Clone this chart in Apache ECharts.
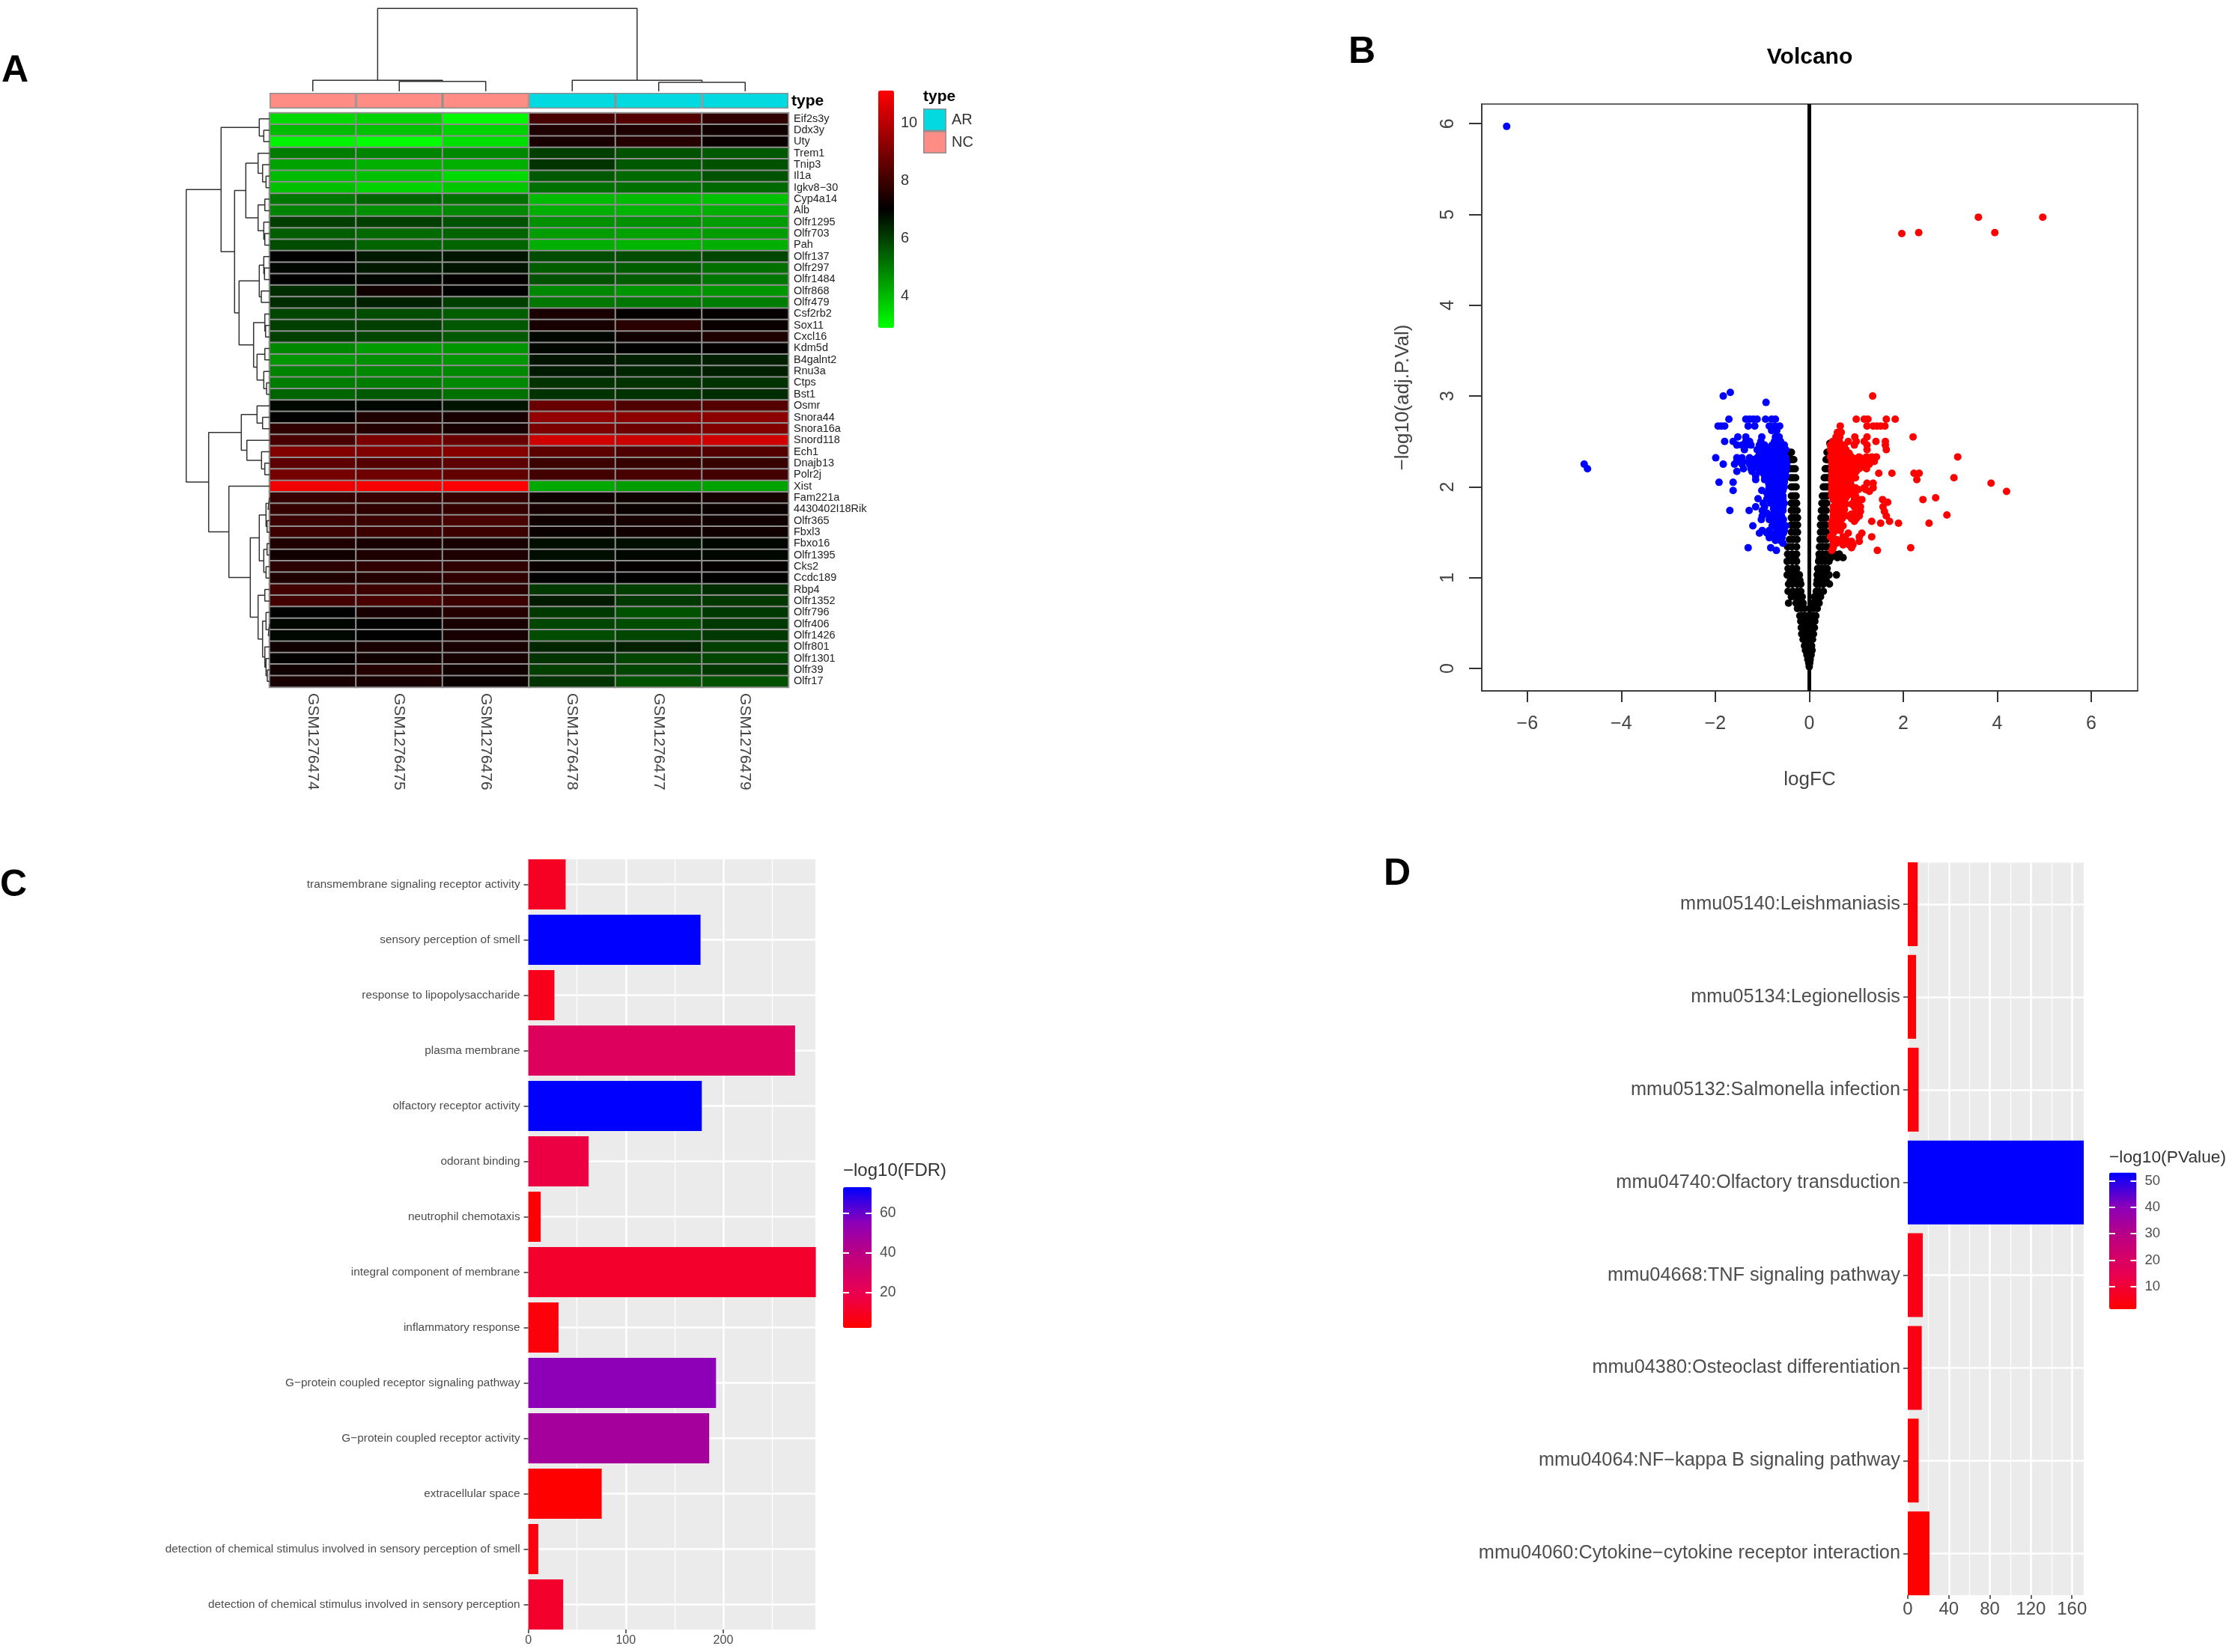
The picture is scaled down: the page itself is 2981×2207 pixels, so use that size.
<!DOCTYPE html>
<html>
<head>
<meta charset="utf-8">
<title>Figure</title>
<script src="https://cdn.jsdelivr.net/npm/echarts@6/dist/echarts.min.js"></script>
<style>
  html, body { margin: 0; padding: 0; background: #fff; }
  #container { width: 2981px; height: 2207px; }
</style>
</head>
<body>
<div id="container"></div>
<script>
// ---- panel A: heatmap ----
var sampleNames = ['GSM1276474','GSM1276475','GSM1276476','GSM1276478','GSM1276477','GSM1276479'];
var sampleType = ['NC','NC','NC','AR','AR','AR'];
var typeNames = ['AR','NC'];
var geneNames = ['Eif2s3y','Ddx3y','Uty','Trem1','Tnip3','Il1a','Igkv8\u221230','Cyp4a14','Alb','Olfr1295','Olfr703','Pah','Olfr137','Olfr297','Olfr1484','Olfr868','Olfr479','Csf2rb2','Sox11','Cxcl16','Kdm5d','B4galnt2','Rnu3a','Ctps','Bst1','Osmr','Snora44','Snora16a','Snord118','Ech1','Dnajb13','Polr2j','Xist','Fam221a','4430402I18Rik','Olfr365','Fbxl3','Fbxo16','Olfr1395','Cks2','Ccdc189','Rbp4','Olfr1352','Olfr796','Olfr406','Olfr1426','Olfr801','Olfr1301','Olfr39','Olfr17'];
var expression = [
  [3.5,3.6,3.0,8.2,8.4,7.8],[4.0,3.9,3.6,7.5,7.5,7.3],[3.1,2.9,3.4,7.4,7.6,7.2],[5.0,4.9,4.8,6.0,5.7,5.6],
  [4.4,4.2,4.2,6.2,5.6,5.7],[4.0,3.9,3.5,5.6,5.3,5.7],[3.9,3.6,3.8,5.2,5.2,5.3],[5.1,5.4,5.2,4.0,4.0,3.9],
  [4.9,4.7,4.8,4.2,4.1,4.2],[6.0,6.0,5.7,4.7,4.7,4.5],[5.5,5.3,5.4,4.5,4.4,4.5],[5.8,5.4,5.4,4.2,4.1,4.2],
  [7.0,6.6,6.7,5.8,5.8,5.9],[6.9,6.6,6.7,5.5,5.5,5.2],[7.0,6.9,7.1,5.7,5.5,5.1],[6.3,7.3,7.0,4.8,4.6,4.6],
  [6.3,6.5,6.0,5.1,5.1,5.0],[5.9,5.8,5.5,7.4,7.1,7.1],[6.0,6.0,5.6,7.4,7.7,7.2],[6.0,5.9,5.6,6.9,7.3,7.5],
  [4.8,4.5,4.6,6.9,7.0,7.1],[4.6,4.7,4.6,6.7,6.5,6.5],[4.9,4.8,4.8,6.6,6.4,6.5],[5.0,5.0,4.8,6.2,6.2,6.2],
  [5.4,5.6,5.2,6.2,6.2,6.3],[6.9,6.9,6.7,8.7,8.3,8.4],[7.0,7.5,7.4,9.4,9.3,9.3],[7.8,7.6,7.4,9.0,8.8,9.1],
  [8.2,9.0,8.7,10.4,10.3,10.4],[9.1,9.1,9.2,8.5,8.3,8.4],[8.5,8.4,8.5,8.0,7.9,7.9],[8.9,8.8,8.6,8.1,8.2,8.1],
  [10.9,11.0,11.1,4.3,4.5,4.4],[7.9,7.9,7.9,7.3,7.3,7.4],[7.9,7.8,7.9,7.4,7.2,7.2],[8.0,8.0,8.2,7.3,7.4,7.3],
  [8.0,8.0,8.0,7.2,7.3,7.3],[7.5,7.4,7.4,6.8,6.8,6.9],[7.3,7.5,7.5,6.8,6.9,6.9],[7.7,7.8,7.8,7.2,7.1,7.1],
  [7.5,7.6,7.8,7.0,7.0,7.0],[8.1,8.0,7.7,6.1,6.0,6.3],[8.1,8.2,8.0,6.6,6.1,6.1],[7.0,7.4,7.6,6.1,5.7,6.1],
  [6.9,7.0,7.4,5.9,5.8,6.1],[6.9,7.0,7.4,5.8,5.9,6.1],[7.3,7.4,7.4,6.4,6.5,6.0],[7.1,7.3,7.4,6.2,5.9,5.9],
  [7.3,7.6,7.3,6.0,5.9,6.1],[7.4,7.4,7.2,6.2,5.7,5.7]
];
// dendrograms: [height, left, right], a number is a leaf (1-based)
var colTree = [110.7, [14.7, 1, [13.3, 2, 3]], [14.7, 4, [12, 5, 6]]];
var rowTree = [111.3,
  [64.7,
    [13.7, 1, [7.7, 2, 3]],
    [46.7,
      [31.7,
        [15.3, 4, [9.3, 5, [4.7, 6, 7]]],
        [15.3, [6.3, 8, 9], [7.7, 10, [6.3, 11, 12]]]],
      [40.7,
        [13.7, [7.7, 13, [6.7, 14, 15]], [11, 16, 17]],
        [21.3,
          [6.3, 18, [5.3, 19, 20]],
          [16.7, [6.3, 21, 22], [7.7, 23, [4, 24, 25]]]]]]],
  [81.3,
    [37.7,
      [16.7, 26, [9.3, 27, 28]],
      [30.3, 29, [10.7, 30, [6.3, 31, 32]]]],
    [54.3, 33,
      [25.7,
        [13.7, [4.7, [2, 34, 35], [3.3, 36, 37]], [7.7, [3.3, 38, 39], [4.7, 40, 41]]],
        [15.3,
          [6.3, 42, 43],
          [9.3, [4.7, 44, [1.7, 45, 46]], [6.3, 47, [4.7, 48, [3, 49, 50]]]]]]]]
];

// ---- panel B: volcano, each row is [y, x, x, ...] ----
var blackRows = [
  [0.02,0],[0.06,-0.01,0.01],[0.1,-0.03,0.02],[0.15,-0.05,-0.01,0.04],[0.2,-0.08,-0.03,0.03,0.06],
  [0.25,-0.1,-0.04,0.01,0.05],[0.32,-0.13,-0.06,0.02,0.07],[0.38,-0.16,-0.09,-0.02,0.04,0.09],
  [0.45,-0.17,-0.1,-0.03,0.05,0.11],[0.52,-0.18,-0.11,-0.05,0.04,0.12],[0.58,-0.2,-0.13,-0.07,0.03,0.09,0.14],
  [0.66,-0.25,-0.17,-0.1,0.04,0.1,0.17],[0.72,-0.44,-0.28,-0.2,-0.13,0.07,0.13,0.21],
  [0.79,-0.38,-0.3,-0.21,-0.15,0.11,0.17,0.24],[0.85,-0.45,-0.35,-0.25,-0.18,0.15,0.21,0.3],
  [0.93,-0.44,-0.36,-0.26,-0.18,0.16,0.23,0.3,0.43],[0.97,-0.4,-0.3,-0.2,0.17,0.25,0.36],
  [1.03,-0.47,-0.38,-0.28,-0.21,0.17,0.24,0.32,0.42,0.58],[1.1,-0.45,-0.36,-0.27,0.18,0.25,0.32,0.38],
  [1.18,-0.47,-0.36,-0.27,0.2,0.27,0.34,0.42],[1.22,-0.42,-0.3,0.22,0.3,0.46,0.6,0.72],
  [1.26,-0.46,-0.36,-0.27,0.21,0.28,0.36,0.44,0.54,0.64],[1.34,-0.46,-0.37,-0.27,0.22,0.28,0.35,0.42],
  [1.42,-0.42,-0.34,-0.26,0.23,0.29,0.36],[1.5,-0.38,-0.31,-0.25,0.24,0.3,0.36],
  [1.58,-0.38,-0.31,-0.25,0.24,0.3,0.35],[1.66,-0.38,-0.31,-0.25,0.25,0.3,0.35],
  [1.74,-0.38,-0.32,-0.26,0.26,0.31,0.36],[1.82,-0.38,-0.32,-0.27,0.27,0.32,0.37],
  [1.9,-0.38,-0.33,-0.28,0.28,0.33,0.38],[2.0,-0.38,-0.33,-0.28,0.3,0.34,0.38],
  [2.1,-0.39,-0.34,-0.29,0.32,0.36,0.39],[2.2,-0.4,-0.35,-0.3,0.34,0.37,0.4],
  [2.3,-0.41,-0.37,-0.33,0.36,0.39,0.41],[2.38,-0.42,-0.38,0.38,0.42],[2.48,0.44]
];
var blueRows = [
  [5.97,-6.44],[3.04,-1.68],[3.0,-1.83],[2.93,-0.92],[2.25,-4.79],[2.2,-4.72],
  [2.745,-1.71,-1.35,-1.27,-1.19,-1.11,-0.93,-0.8,-0.72],
  [2.67,-1.94,-1.87,-1.8,-1.3,-1.16,-0.85,-0.74,-0.63],
  [2.62,-0.8,-0.69],
  [2.55,-1.52,-1.35,-1.01,-0.72,-0.64],
  [2.5,-1.8,-1.62,-1.35,-1.27,-1.03,-0.74,-0.61],
  [2.46,-1.54,-1.43,-1.35,-1.24,-1.06,-0.95,-0.79,-0.63,-0.53],
  [2.43,-0.56,-0.7,-0.85],
  [2.41,-1.38,-1.11,-1.0,-0.9,-0.77,-0.63,-0.5],
  [2.38,-0.6,-0.75,-0.95],
  [2.36,-1.06,-0.85,-0.69,-0.53],
  [2.32,-1.99,-1.54,-1.43,-1.27,-1.11,-0.95,-0.79,-0.63,-0.5],
  [2.3,-0.56,-0.7,-0.87,-1.03,-1.2],
  [2.28,-1.54,-1.41,-1.27,-1.11,-0.95,-0.79,-0.63,-0.49],
  [2.26,-0.54,-0.68,-0.84,-1.0,-1.2],
  [2.25,-1.83,-1.59,-1.43,-1.27,-1.08,-0.92,-0.76,-0.6,-0.48],
  [2.22,-0.54,-0.68,-0.84,-1.0,-1.16],
  [2.2,-1.4,-1.24,-1.08,-0.92,-0.76,-0.6,-0.49],
  [2.17,-1.54,-1.22,-1.06,-0.9,-0.74,-0.58,-0.5],
  [2.15,-0.54,-0.66,-0.82,-0.98],
  [2.12,-1.14,-0.95,-0.79,-0.63,-0.5],
  [2.1,-0.56,-0.7,-0.87],
  [2.08,-1.14,-0.95,-0.82,-0.66,-0.53],
  [2.05,-1.92,-1.62,-0.79,-0.66,-0.53],
  [2.03,-0.58,-0.72,-0.86],
  [2.0,-0.79,-0.66,-0.53],
  [1.98,-0.6,-0.72,-0.86],
  [1.96,-1.62,-1.01,-0.85,-0.72,-0.56],
  [1.93,-0.6,-0.7,-0.8,-0.9],
  [1.9,-0.85,-0.72,-0.56],
  [1.88,-0.62,-0.78],
  [1.87,-1.09,-0.9,-0.72,-0.56],
  [1.84,-0.6,-0.74],
  [1.82,-0.98,-0.82,-0.66,-0.53],
  [1.8,-0.6,-0.76],
  [1.78,-1.14,-0.95,-0.69,-0.56],
  [1.76,-0.62,-0.76],
  [1.74,-1.69,-1.28,-1.0,-0.69,-0.56],
  [1.71,-0.62,-0.76,-0.9],
  [1.68,-1.0,-0.85,-0.72,-0.59],
  [1.66,-0.62,-0.76],
  [1.64,-1.02,-0.85,-0.69,-0.55],
  [1.6,-0.6,-0.74],
  [1.57,-1.2,-0.79,-0.63,-0.5],
  [1.55,-0.57,-0.7],
  [1.52,-1.0,-0.85,-0.66,-0.53],
  [1.49,-1.06,-0.9,-0.72,-0.55],
  [1.47,-0.6,-0.78],
  [1.44,-0.85,-0.69,-0.58],
  [1.41,-0.62,-0.72],
  [1.38,-0.56],
  [1.33,-1.3,-0.82],
  [1.3,-0.7]
];
var redRows = [
  [4.97,3.6,4.97],[4.8,2.33,3.95],[4.79,1.97],[3.0,1.35],
  [2.745,1.0,1.17,1.25,1.64,1.83],
  [2.67,0.66,1.23,1.36,1.44,1.52,1.61],
  [2.6,0.6,0.68],
  [2.55,0.57,0.65,0.97,1.23,2.21],
  [2.5,0.5,0.64,0.83,1.0,1.17,1.42,1.62],
  [2.46,0.45,0.59,0.75,0.96,1.23,1.62],
  [2.42,0.52,0.68],
  [2.41,0.45,0.61,0.78,1.23,1.64],
  [2.37,0.48,0.56,0.7,0.85],
  [2.33,0.45,0.64,0.8,0.9,1.06,1.22,1.33,1.43,3.16],
  [2.31,0.56,0.72,0.88,1.0,1.14],
  [2.28,0.48,0.64,0.8,0.96,1.12,1.28,1.385],
  [2.26,0.56,0.72,0.9,1.08,1.2],
  [2.25,0.48,0.64,0.8,1.0,1.17,1.28],
  [2.22,0.56,0.72,0.92,1.14],
  [2.2,0.48,0.64,0.8,1.06,1.22],
  [2.17,0.56,0.72,0.88,1.0],
  [2.15,0.48,0.64,0.8,0.96,1.48,1.76,2.23,2.34],
  [2.12,0.56,0.72,0.88],
  [2.1,0.48,0.64,0.8,0.985,3.08],
  [2.08,0.48,0.64,0.8,2.29],
  [2.06,0.56,0.72,0.88],
  [2.04,0.48,0.64,0.8,1.23,1.36,3.87],
  [2.01,0.56,0.72,0.9],
  [1.99,0.48,0.64,0.8,0.985,1.17,1.36],
  [1.97,0.56,0.72,0.88,1.05,1.2],
  [1.95,0.48,0.64,0.78,0.985,1.28,4.2],
  [1.92,0.56,0.72,0.9],
  [1.9,0.48,0.64,0.8,0.985],
  [1.88,0.56,0.62,0.78,1.0,2.69],
  [1.86,0.51,0.69,0.96,1.12,1.56,2.42],
  [1.83,1.67],
  [1.81,0.6,0.78,0.9,1.02],
  [1.78,0.51,0.69,0.96,1.09,1.57],
  [1.75,0.58,0.75,1.0],
  [1.73,0.51,0.67,1.09,1.6],
  [1.7,0.6,0.72,0.9],
  [1.69,2.93],
  [1.68,0.51,0.83,0.96,1.065,1.64],
  [1.65,0.56,0.7,0.9,1.0],
  [1.62,0.48,0.64,0.96,1.33,1.71],
  [1.6,0.48,0.61,1.52,1.9,2.55],
  [1.57,0.56,0.72],
  [1.55,0.48,0.67],
  [1.52,0.56,0.66],
  [1.49,0.51,0.83,1.12],
  [1.45,0.45,0.72,1.065,1.33],
  [1.42,0.58,0.78],
  [1.4,0.51,0.72,0.9,1.065],
  [1.38,0.58],
  [1.36,0.51,0.72,0.85,0.93],
  [1.33,0.51,0.9,2.16],
  [1.3,0.48,1.45]
];

// ---- panel C ----
var goTerms = ['transmembrane signaling receptor activity','sensory perception of smell','response to lipopolysaccharide','plasma membrane','olfactory receptor activity','odorant binding','neutrophil chemotaxis','integral component of membrane','inflammatory response','G\u2212protein coupled receptor signaling pathway','G\u2212protein coupled receptor activity','extracellular space','detection of chemical stimulus involved in sensory perception of smell','detection of chemical stimulus involved in sensory perception'];
var goCounts = [38.3,176.7,26.8,273.7,178,61.9,12.7,295,31,192.6,185.6,75.3,10.2,35.8];
var goFdr = [10,73,8,25,73,17,3,12,4,55,47,2,5,12];

// ---- panel D ----
var keggTerms = ['mmu05140:Leishmaniasis','mmu05134:Legionellosis','mmu05132:Salmonella infection','mmu04740:Olfactory transduction','mmu04668:TNF signaling pathway','mmu04380:Osteoclast differentiation','mmu04064:NF\u2212kappa B signaling pathway','mmu04060:Cytokine\u2212cytokine receptor interaction'];
var keggCounts = [9.6,8.05,10.6,171.5,14.6,13.6,10.6,21.1];
var keggP = [3,2.5,3.5,53,5,4.5,2.5,1.5];

var fontFamily = 'Liberation Sans';
var greyText = '#4d4d4d';
var redBlue = ['#ff0000','#ea0050','#c1007c','#8c00b8','#0000ff'];

function flatRows(rows) {
  var out = [];
  rows.forEach(function (row) {
    for (var i = 1; i < row.length; i++) out.push([row[i], row[0]]);
  });
  return out;
}

// walks a dendrogram, gives back line pieces as [position, height]
function treeLines(node, out) {
  if (typeof node === 'number') return { pos: node - 0.5, h: 0 };
  var a = treeLines(node[1], out);
  var b = treeLines(node[2], out);
  out.push([a.pos, a.h], [a.pos, node[0]], [b.pos, node[0]], [b.pos, b.h], [NaN, NaN]);
  return { pos: (a.pos + b.pos) / 2, h: node[0] };
}
var colLines = [];
treeLines(colTree, colLines);
var rowLines = [];
treeLines(rowTree, rowLines);
rowLines = rowLines.map(function (p) { return [p[1], p[0]]; });

var heatData = [];
expression.forEach(function (row, r) {
  row.forEach(function (v, c) { heatData.push([c, r, v]); });
});

var typeColor = { AR: '#00dae0', NC: '#ff8c85' };

function hiddenAxis(gridIndex, opt) {
  return Object.assign({ type: 'value', gridIndex: gridIndex, show: false }, opt || {});
}
function title(text, left, top, size, bold, color) {
  return { text: text, left: left, top: top, padding: 0,
    textStyle: { fontFamily: fontFamily, fontSize: size, fontWeight: bold ? 'bold' : 'normal', color: color || '#000' } };
}

// panel with grey background that owns the x axis, major and minor lines are 2 axes
function panelXAxes(gridIndex, max, majorStep, minorStep, labels, fontSize) {
  return [
    { type: 'value', gridIndex: gridIndex, position: 'bottom', min: 0, max: max, interval: minorStep,
      axisLine: { show: false, onZero: false }, axisTick: { show: false }, axisLabel: { show: false },
      splitLine: { show: true, lineStyle: { color: '#fff', width: 1.2 } } },
    { type: 'value', gridIndex: gridIndex, position: 'bottom', min: 0, max: max, interval: majorStep,
      axisLine: { show: false, onZero: false },
      axisTick: { show: true, customValues: labels, length: 5, lineStyle: { color: '#333', width: 1.5 } },
      axisLabel: { show: true, customValues: labels, margin: 7, fontSize: fontSize, color: greyText, fontFamily: fontFamily },
      splitLine: { show: true, lineStyle: { color: '#fff', width: 2.5 } } }
  ];
}

var xAxes = [
  { type: 'category', gridIndex: 0, data: sampleNames, position: 'bottom',
    axisLine: { show: false }, axisTick: { show: false }, splitLine: { show: false },
    axisLabel: { rotate: -90, margin: 8, fontSize: 21, color: '#444', fontFamily: fontFamily, interval: 0 } },
  { type: 'category', gridIndex: 1, data: sampleNames, show: false },
  hiddenAxis(2, { min: 0, max: 6 }),
  hiddenAxis(3, { min: 0, max: 111.3, inverse: true }),
  hiddenAxis(4, { min: 0, max: 1 }),
  hiddenAxis(5, { min: 0, max: 1 }),
  { type: 'value', gridIndex: 6, position: 'bottom', min: -6.97, max: 6.99, name: 'logFC', nameLocation: 'middle', nameGap: 106,
    nameTextStyle: { fontSize: 26, color: '#444', fontFamily: fontFamily },
    axisLine: { show: true, onZero: false, lineStyle: { color: '#333', width: 1.5 } }, splitLine: { show: false },
    axisTick: { show: true, outside: true, customValues: [-6,-4,-2,0,2,4,6], length: 15, lineStyle: { color: '#333', width: 2 } },
    axisLabel: { show: true, customValues: [-6,-4,-2,0,2,4,6], margin: 32, fontSize: 25, color: '#444', fontFamily: fontFamily,
      formatter: function (v) { return String(v).replace('-', '\u2212'); } } }
].concat(panelXAxes(7, 295, 100, 50, [0,100,200], 16)).concat([
  hiddenAxis(8, { min: 0, max: 295 }),
  hiddenAxis(9, { min: 0, max: 1 })
]).concat(panelXAxes(10, 171.5, 40, 20, [0,40,80,120,160], 24)).concat([
  hiddenAxis(11, { min: 0, max: 171.5 }),
  hiddenAxis(12, { min: 0, max: 1 })
]);

function legendAxes(gridIndex, min, max, values, fontSize, tickLen) {
  var tick = { show: true, inside: true, customValues: values, length: tickLen, lineStyle: { color: '#fff', width: 2 } };
  return [
    { type: 'value', gridIndex: gridIndex, position: 'left', min: min, max: max, z: 10,
      axisLine: { show: false }, splitLine: { show: false }, axisTick: tick, axisLabel: { show: false } },
    { type: 'value', gridIndex: gridIndex, position: 'right', min: min, max: max, z: 10,
      axisLine: { show: false }, splitLine: { show: false }, axisTick: tick,
      axisLabel: { show: true, customValues: values, margin: 11, fontSize: fontSize, color: greyText, fontFamily: fontFamily } }
  ];
}

function termAxis(gridIndex, terms, fontSize, margin) {
  return { type: 'category', gridIndex: gridIndex, data: terms, inverse: true,
    axisLine: { show: false },
    axisTick: { show: true, alignWithLabel: true, length: 6, lineStyle: { color: '#333', width: 1.5 } },
    axisLabel: { show: true, interval: 0, margin: margin, fontSize: fontSize, color: greyText, fontFamily: fontFamily },
    splitLine: { show: true, alignWithLabel: true, lineStyle: { color: '#fff', width: 2.5 } } };
}

var yAxes = [
  { type: 'category', gridIndex: 0, data: geneNames, inverse: true, position: 'right',
    axisLine: { show: false }, axisTick: { show: false }, splitLine: { show: false },
    axisLabel: { margin: 7, fontSize: 14.5, color: '#222', fontFamily: fontFamily, interval: 0 } },
  hiddenAxis(1, { min: 0, max: 1 }),
  hiddenAxis(2, { min: 0, max: 110.7 }),
  hiddenAxis(3, { min: 0, max: 50, inverse: true }),
  { type: 'value', gridIndex: 4, position: 'right', min: 2.9, max: 11.14, z: 10,
    axisLine: { show: false }, axisTick: { show: false }, splitLine: { show: false },
    axisLabel: { show: true, customValues: [4,6,8,10], margin: 9, fontSize: 20, color: '#333', fontFamily: fontFamily } },
  { type: 'category', gridIndex: 5, data: typeNames, inverse: true, position: 'right',
    axisLine: { show: false }, axisTick: { show: false }, splitLine: { show: false },
    axisLabel: { margin: 7, fontSize: 20, color: '#333', fontFamily: fontFamily } },
  { type: 'value', gridIndex: 6, position: 'left', min: -0.247, max: 6.216, name: '\u2212log10(adj.P.Val)', nameLocation: 'middle', nameGap: 92, nameRotate: 90,
    nameTextStyle: { fontSize: 26, color: '#444', fontFamily: fontFamily },
    axisLine: { show: true, onZero: false, lineStyle: { color: '#333', width: 1.5 } }, splitLine: { show: false },
    axisTick: { show: true, customValues: [0,1,2,3,4,5,6], length: 17, lineStyle: { color: '#333', width: 2 } },
    axisLabel: { show: true, customValues: [0,1,2,3,4,5,6], rotate: 90, margin: 32, fontSize: 25, color: '#444', fontFamily: fontFamily } },
  hiddenAxis(7, { min: 0, max: 1 }),
  termAxis(8, goTerms, 15.4, 11)
].concat(legendAxes(9, 2.1, 73, [20,40,60], 19.4, 8)).concat([
  hiddenAxis(10, { min: 0, max: 1 }),
  termAxis(11, keggTerms, 25.3, 10)
]).concat(legendAxes(12, 1.5, 53.1, [10,20,30,40,50], 18.6, 8));

var grids = [
  { left: 360, top: 151, width: 693, height: 767 },
  { left: 360, top: 124, width: 693, height: 21 },
  { left: 360, top: 11.3, width: 693, height: 110.7 },
  { left: 248.7, top: 151, width: 111.3, height: 767 },
  { left: 1173, top: 121, width: 21, height: 317 },
  { left: 1233, top: 145, width: 31, height: 60 },
  { left: 1979, top: 139, width: 876, height: 784, show: true, borderColor: '#333', borderWidth: 1.5, backgroundColor: 'transparent' },
  { left: 705.6, top: 1148, width: 384, height: 1029, show: true, backgroundColor: '#ebebeb', borderWidth: 0 },
  { left: 705.6, top: 1144.5, width: 384, height: 1036 },
  { left: 1126, top: 1586, width: 38, height: 188 },
  { left: 2548, top: 1152.6, width: 235, height: 978.4, show: true, backgroundColor: '#ebebeb', borderWidth: 0 },
  { left: 2548, top: 1146, width: 235, height: 991.2 },
  { left: 2817, top: 1566.5, width: 36.5, height: 182.5 }
];

// x axis indexes: 0-6 as grids, 7/8 = panel C, 9 C bars, 10 C legend, 11/12 panel D, 13 D bars, 14 D legend
// y axis indexes: 0-8 as grids, 9/10 C legend, 11 panel D, 12 D bars, 13/14 D legend
var dendroStyle = { color: '#333', width: 1.5 };

var series = [
  { type: 'heatmap', name: 'expression', xAxisIndex: 0, yAxisIndex: 0, data: heatData, progressive: 0,
    itemStyle: { borderColor: '#8f8f8f', borderWidth: 2 } },
  { type: 'bar', name: 'type', xAxisIndex: 1, yAxisIndex: 1, barWidth: '100%',
    data: sampleType.map(function (t) {
      return { value: 1, itemStyle: { color: typeColor[t], borderColor: '#8f8f8f', borderWidth: 1.5 } };
    }) },
  { type: 'line', xAxisIndex: 2, yAxisIndex: 2, data: colLines, showSymbol: false, symbol: 'none', connectNulls: false, lineStyle: dendroStyle, clip: false },
  { type: 'line', xAxisIndex: 3, yAxisIndex: 3, data: rowLines, showSymbol: false, symbol: 'none', connectNulls: false, lineStyle: dendroStyle, clip: false },
  { type: 'bar', name: 'typeLegend', xAxisIndex: 5, yAxisIndex: 5, barWidth: '100%',
    data: typeNames.map(function (t) {
      return { value: 1, itemStyle: { color: typeColor[t], borderColor: '#8f8f8f', borderWidth: 1.5 } };
    }) },
  { type: 'scatter', name: 'ns', xAxisIndex: 6, yAxisIndex: 6, symbolSize: 10, data: flatRows(blackRows), itemStyle: { color: '#000', opacity: 1 },
    markLine: { silent: true, symbol: 'none', label: { show: false }, lineStyle: { color: '#000', width: 5, type: 'solid' }, data: [{ xAxis: 0 }] } },
  { type: 'scatter', name: 'down', xAxisIndex: 6, yAxisIndex: 6, symbolSize: 10, data: flatRows(blueRows), itemStyle: { color: '#0000ff', opacity: 1 } },
  { type: 'scatter', name: 'up', xAxisIndex: 6, yAxisIndex: 6, symbolSize: 10, data: flatRows(redRows), itemStyle: { color: '#ff0000', opacity: 1 } },
  { type: 'bar', name: 'GO', xAxisIndex: 9, yAxisIndex: 8, barWidth: 67, encode: { x: 0, y: 1 },
    data: goTerms.map(function (t, i) { return [goCounts[i], t, goFdr[i]]; }) },
  { type: 'bar', name: 'KEGG', xAxisIndex: 13, yAxisIndex: 12, barWidth: 112, encode: { x: 0, y: 1 },
    data: keggTerms.map(function (t, i) { return [keggCounts[i], t, keggP[i]]; }) }
];

var option = {
  animation: false,
  backgroundColor: '#fff',
  textStyle: { fontFamily: fontFamily },
  title: [
    title('A', 2, 70, 50, true),
    title('B', 1801, 45, 50, true),
    title('C', 0, 1158, 50, true),
    title('D', 1848, 1143, 50, true),
    { text: 'Volcano', left: 2417, top: 62, padding: 0, textAlign: 'center',
      textStyle: { fontFamily: fontFamily, fontSize: 30, fontWeight: 'bold', color: '#000' } },
    title('type', 1057, 125, 21, true),
    title('type', 1233, 119, 21, true),
    title('\u2212log10(FDR)', 1126, 1552, 24, false, '#333'),
    title('\u2212log10(PValue)', 2817, 1535, 22.8, false, '#333')
  ],
  grid: grids,
  xAxis: xAxes,
  yAxis: yAxes,
  visualMap: [
    { type: 'continuous', seriesIndex: 0, dimension: 2, min: 2.9, max: 11.14, left: 1173, top: 121, padding: 0, itemWidth: 21, itemHeight: 317,
      calculable: false, hoverLink: false, inRange: { color: ['#00ff00','#000000','#ff0000'] }, textStyle: { color: 'transparent' } },
    { type: 'continuous', seriesIndex: 8, dimension: 2, min: 2.1, max: 73, left: 1126, top: 1586, padding: 0, itemWidth: 38, itemHeight: 188,
      calculable: false, hoverLink: false, inRange: { color: redBlue }, textStyle: { color: 'transparent' } },
    { type: 'continuous', seriesIndex: 9, dimension: 2, min: 1.5, max: 53.1, left: 2817, top: 1566.5, padding: 0, itemWidth: 36.5, itemHeight: 182.5,
      calculable: false, hoverLink: false, inRange: { color: redBlue }, textStyle: { color: 'transparent' } }
  ],
  series: series
};

var myChart = echarts.init(document.getElementById('container'), null, { renderer: 'canvas', width: 2981, height: 2207 });
myChart.setOption(option);
</script>
</body>
</html>
